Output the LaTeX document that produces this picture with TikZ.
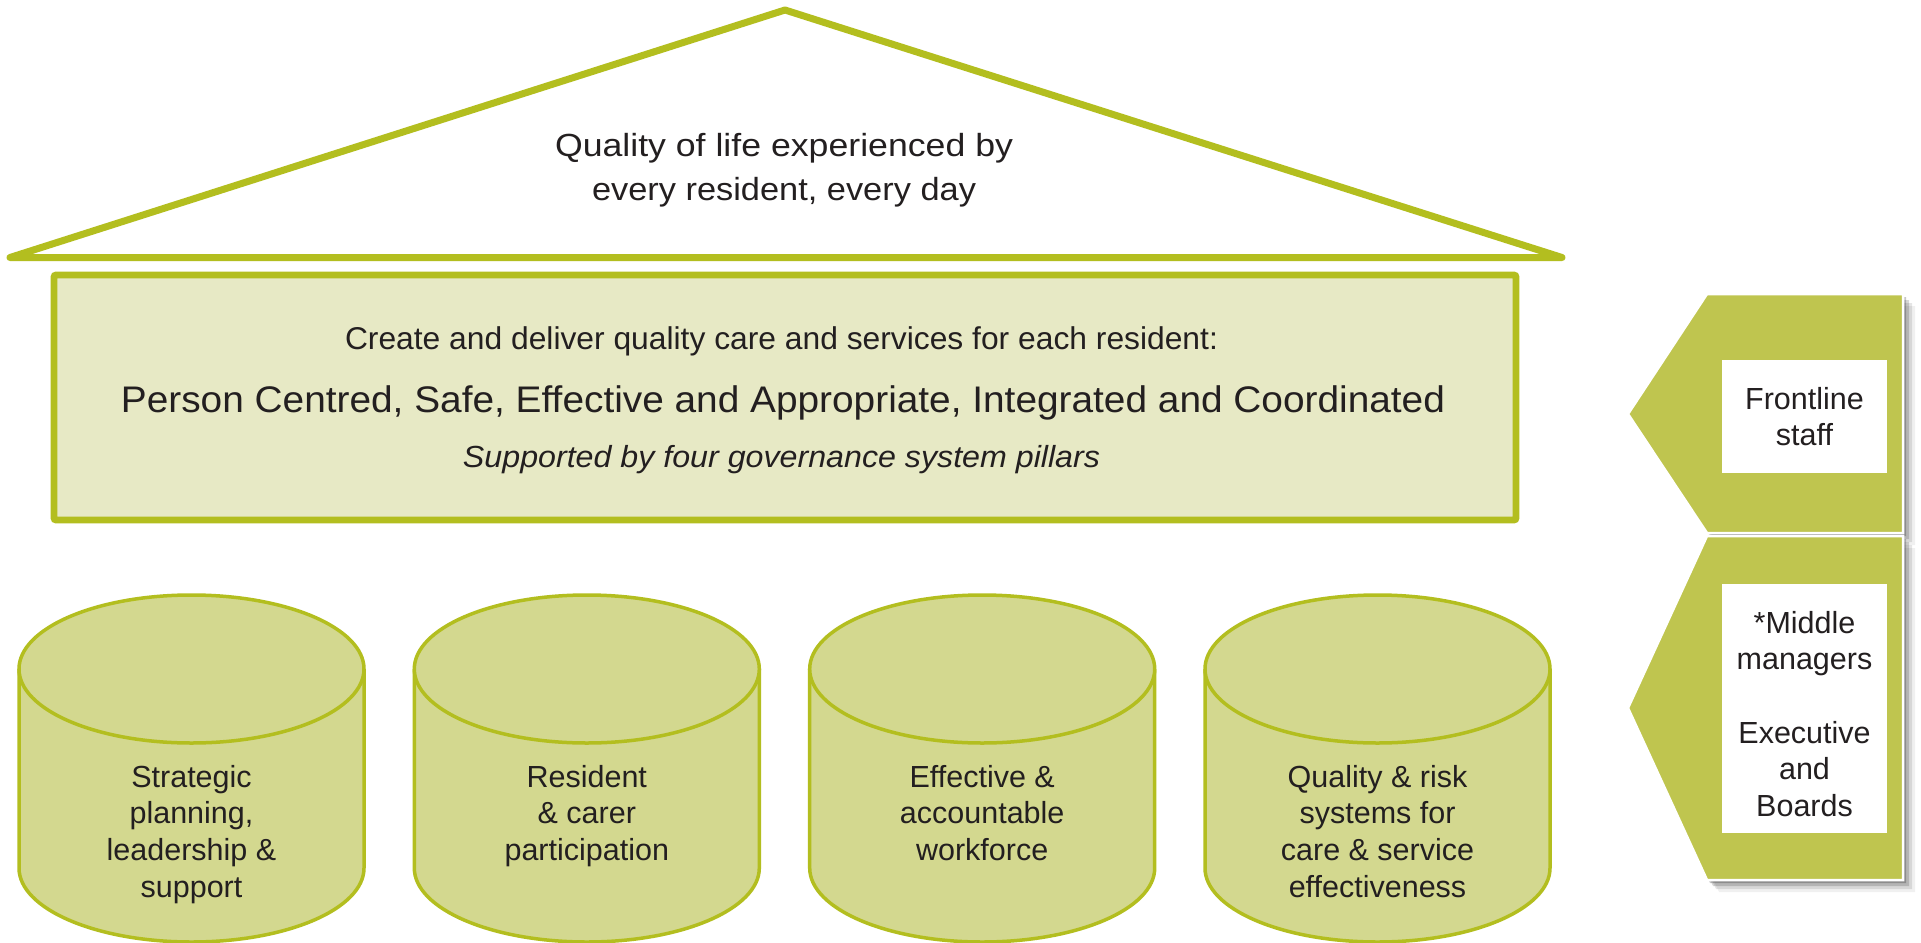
\documentclass[tikz,border=0pt]{standalone}
\usepackage{fontspec}
\setmainfont{Liberation Sans}
\usepackage{graphicx}
\definecolor{leaf}{HTML}{B3BE1F}
\definecolor{pale}{HTML}{E7E9C5}
\definecolor{cylfill}{HTML}{D3D88F}
\definecolor{olive}{HTML}{BFC54F}
\definecolor{ink}{HTML}{231F20}
\newcommand{\fitw}[2]{\resizebox{#1pt}{\height}{#2}}
\newcommand{\pillarshape}[1]{%
  \fill[cylfill] (#1-172.5,669) rectangle (#1+172.5,868);
  \fill[cylfill] (#1,868) ellipse [x radius=172.5pt, y radius=74pt];
  \draw[cyledge] (#1-172.5,669) -- (#1-172.5,868)
     arc [start angle=180, end angle=360, x radius=172.5pt, y radius=74pt] -- (#1+172.5,669);
  \draw[cyledge, fill=cylfill] (#1,669) ellipse [x radius=172.5pt, y radius=74pt];
}
\tikzset{
  roofline/.style={draw=leaf, line width=7pt, line join=round, line cap=round},
  mainbox/.style={draw=leaf, fill=pale, line width=6.7pt, rounded corners=2pt},
  cyledge/.style={draw=leaf, line width=3.5pt},
  bodytext/.style={text=ink, inner sep=0pt, anchor=base},
  cyltext/.style={bodytext, align=center, font=\fontsize{30.5}{36.7}\selectfont},
  panel/.style={fill=olive, draw=white, line width=2.5pt, line join=miter},
  panelbox/.style={fill=white, draw=none},
}
\begin{document}
\begin{tikzpicture}[x=1pt, y=-1pt]
\useasboundingbox (0,0) rectangle (1921,942);
\fill[white] (0,0) rectangle (1921,942);

% roof
\draw[roofline] (10,257.5) -- (785,10) -- (1562,257.5) -- cycle;
\node (roof1) [bodytext, font=\fontsize{32}{38}\selectfont] at (784,156)
  {\fitw{458}{Quality of life experienced by}};
\node (roof2) [bodytext, font=\fontsize{32}{38}\selectfont] at (784,200)
  {\fitw{384}{every resident, every day}};

% main box
\draw[mainbox] (54,275) rectangle (1516,520);
\node (create) [bodytext, font=\fontsize{31.5}{38}\selectfont] at (781.5,349)
  {\fitw{873}{Create and deliver quality care and services for each resident:}};
\node (person) [bodytext, font=\fontsize{37}{44}\selectfont] at (783,412)
  {\fitw{1324}{Person Centred, Safe, Effective and Appropriate, Integrated and Coordinated}};
\node (supported) [bodytext, font=\fontsize{30.5}{36}\selectfont\itshape] at (781.5,467)
  {\fitw{637}{Supported by four governance system pillars}};

% pillars
\pillarshape{191.5}
\pillarshape{586.8}
\pillarshape{982.2}
\pillarshape{1377.5}
% anchor=base of a multi-line node is the baseline of its last line
\node (p1) [cyltext] at (191.5,897.1) {Strategic\\planning,\\leadership \&\\support};
\node (p2) [cyltext] at (586.8,860.4) {Resident\\\& carer\\participation};
\node (p3) [cyltext] at (982.2,860.4) {Effective \&\\accountable\\workforce};
\node (p4) [cyltext] at (1377.5,897.1) {Quality \& risk\\systems for\\care \& service\\effectiveness};

% right panels: shadows
\foreach \d/\o in {12/0.06, 9/0.10, 6/0.16, 3/0.22} {
  \fill[black, opacity=\o] (1707+\d,294+\d) -- (1903+\d,294+\d) -- (1903+\d,533+\d) -- (1707+\d,533+\d) -- (1628+\d,414+\d) -- cycle;
  \fill[black, opacity=\o] (1707+\d,536+\d) -- (1903+\d,536+\d) -- (1903+\d,880+\d) -- (1707+\d,880+\d) -- (1628+\d,708+\d) -- cycle;
}
\draw[panel] (1707,294) -- (1903,294) -- (1903,533) -- (1707,533) -- (1628,414) -- cycle;
\draw[panel] (1707,536) -- (1903,536) -- (1903,880) -- (1707,880) -- (1628,708) -- cycle;
\fill[panelbox] (1722,360) rectangle (1887,473);
\fill[panelbox] (1722,584) rectangle (1887,833);
\node (front) [cyltext] at (1804.5,445.7) {Frontline\\staff};
\node (mgrs) [cyltext] at (1804.5,816.5) {*Middle\\managers\\[36.7pt]Executive\\and\\Boards};
\end{tikzpicture}
\end{document}
